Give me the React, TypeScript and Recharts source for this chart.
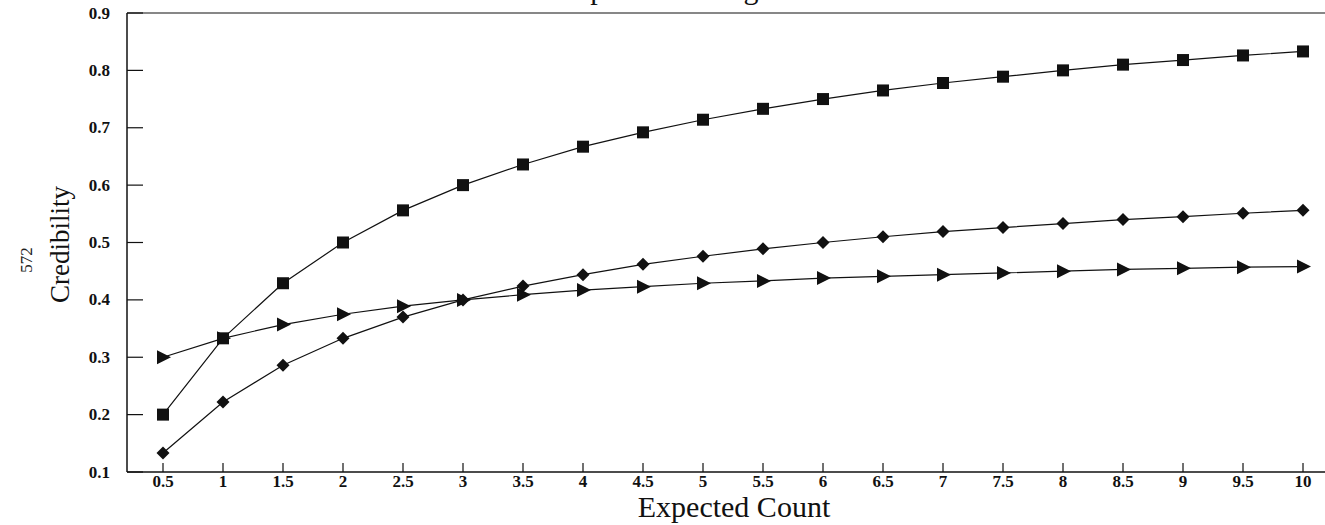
import { LineChart, Line, XAxis, YAxis, ReferenceLine, Label } from "recharts";

// Values
const expectedCount = [0.5, 1, 1.5, 2, 2.5, 3, 3.5, 4, 4.5, 5, 5.5, 6, 6.5, 7, 7.5, 8, 8.5, 9, 9.5, 10];
const squareSeries = [0.2, 0.333, 0.429, 0.5, 0.556, 0.6, 0.636, 0.667, 0.692, 0.714, 0.733, 0.75, 0.765, 0.778, 0.789, 0.8, 0.81, 0.818, 0.826, 0.833];
const diamondSeries = [0.133, 0.222, 0.286, 0.333, 0.37, 0.4, 0.424, 0.444, 0.462, 0.476, 0.489, 0.5, 0.51, 0.519, 0.526, 0.533, 0.54, 0.545, 0.551, 0.556];
const triangleSeries = [0.3, 0.333, 0.357, 0.375, 0.389, 0.4, 0.409, 0.417, 0.423, 0.429, 0.433, 0.438, 0.441, 0.444, 0.447, 0.45, 0.453, 0.455, 0.457, 0.458];
const yTicks = [0.1, 0.2, 0.3, 0.4, 0.5, 0.6, 0.7, 0.8, 0.9];

const data = expectedCount.map((x, i) => ({
  x,
  square: squareSeries[i],
  diamond: diamondSeries[i],
  triangle: triangleSeries[i],
}));

const FONT = "'Liberation Serif', 'DejaVu Serif', serif";
const INK = "#111";

// ─── Markers ─────────────────────────────────────────────────────────────────

function SquareDot({ cx, cy }: any) {
  if (cx == null || cy == null) return null;
  return <rect x={cx - 6} y={cy - 6} width={12} height={12} fill={INK} />;
}

function DiamondDot({ cx, cy }: any) {
  if (cx == null || cy == null) return null;
  const r = 6.5;
  return <path d={`M${cx},${cy - r}L${cx + r},${cy}L${cx},${cy + r}L${cx - r},${cy}Z`} fill={INK} />;
}

function TriangleDot({ cx, cy }: any) {
  if (cx == null || cy == null) return null;
  return <path d={`M${cx - 6},${cy - 7}L${cx + 8},${cy}L${cx - 6},${cy + 7}Z`} fill={INK} />;
}

// ─── Inward ticks ────────────────────────────────────────────────────────────

function YTick({ x, y, payload }: any) {
  return (
    <g>
      <line x1={x} y1={y} x2={x + 16} y2={y} stroke={INK} strokeWidth={1.2} />
      <text x={x - 17} y={y} textAnchor="end" dominantBaseline="central" fontFamily={FONT} fontSize={17} fontWeight="bold" fill={INK}>
        {payload.value.toFixed(1)}
      </text>
    </g>
  );
}

function XTick({ x, y, payload }: any) {
  return (
    <g>
      <line x1={x} y1={y} x2={x} y2={y - 9} stroke={INK} strokeWidth={1.2} />
      <text x={x} y={y + 15} textAnchor="middle" fontFamily={FONT} fontSize={17} fontWeight="bold" fill={INK}>
        {payload.value}
      </text>
    </g>
  );
}

export default function App() {
  return (
    <div style={{ position: "absolute", top: 0, left: 0, width: 1325, height: 525, overflow: "hidden", background: "#fff" }}>
      {/* title is mostly cut off by the top edge of the scan */}
      <div style={{ position: "absolute", top: -28, left: 0, width: 1372, textAlign: "center", fontFamily: FONT, fontSize: 30, color: INK }}>
        Group Risk Configuration
      </div>
      {/* page number printed sideways */}
      <div style={{ position: "absolute", left: 14, top: 250, transform: "rotate(-90deg)", fontFamily: FONT, fontSize: 17, color: "#222" }}>
        572
      </div>
      <LineChart width={1325} height={525} data={data} margin={{ top: 13, right: 0, left: 0, bottom: 0 }}>
        <XAxis
          dataKey="x"
          type="number"
          domain={[0.2, 10.1833]}
          ticks={expectedCount}
          allowDataOverflow
          height={53}
          tickSize={0}
          tickMargin={0}
          tickLine={false}
          tick={<XTick />}
          axisLine={{ stroke: INK, strokeWidth: 1.5 }}
        >
          <Label
            content={({ viewBox }: any) => (
              <text x={viewBox.x + viewBox.width / 2 + 8} y={viewBox.y + 45} textAnchor="middle" fontFamily={FONT} fontSize={30} fill={INK}>
                Expected Count
              </text>
            )}
          />
        </XAxis>
        <YAxis
          type="number"
          domain={[0.1, 0.9]}
          ticks={yTicks}
          width={127}
          tickSize={0}
          tickMargin={0}
          tickLine={false}
          tick={<YTick />}
          axisLine={{ stroke: INK, strokeWidth: 1.5 }}
        >
          <Label
            content={({ viewBox }: any) => {
              const cx = viewBox.x + 60;
              const cy = viewBox.y + viewBox.height / 2 + 2;
              return (
                <text x={cx} y={cy} transform={`rotate(-90 ${cx} ${cy})`} textAnchor="middle" dominantBaseline="central" fontFamily={FONT} fontSize={27} fill={INK}>
                  Credibility
                </text>
              );
            }}
          />
        </YAxis>
        <ReferenceLine y={0.9} stroke={INK} strokeWidth={1.2} />
        <Line dataKey="triangle" stroke={INK} strokeWidth={1.2} dot={<TriangleDot />} activeDot={false} isAnimationActive={false} />
        <Line dataKey="diamond" stroke={INK} strokeWidth={1.2} dot={<DiamondDot />} activeDot={false} isAnimationActive={false} />
        <Line dataKey="square" stroke={INK} strokeWidth={1.2} dot={<SquareDot />} activeDot={false} isAnimationActive={false} />
      </LineChart>
    </div>
  );
}
